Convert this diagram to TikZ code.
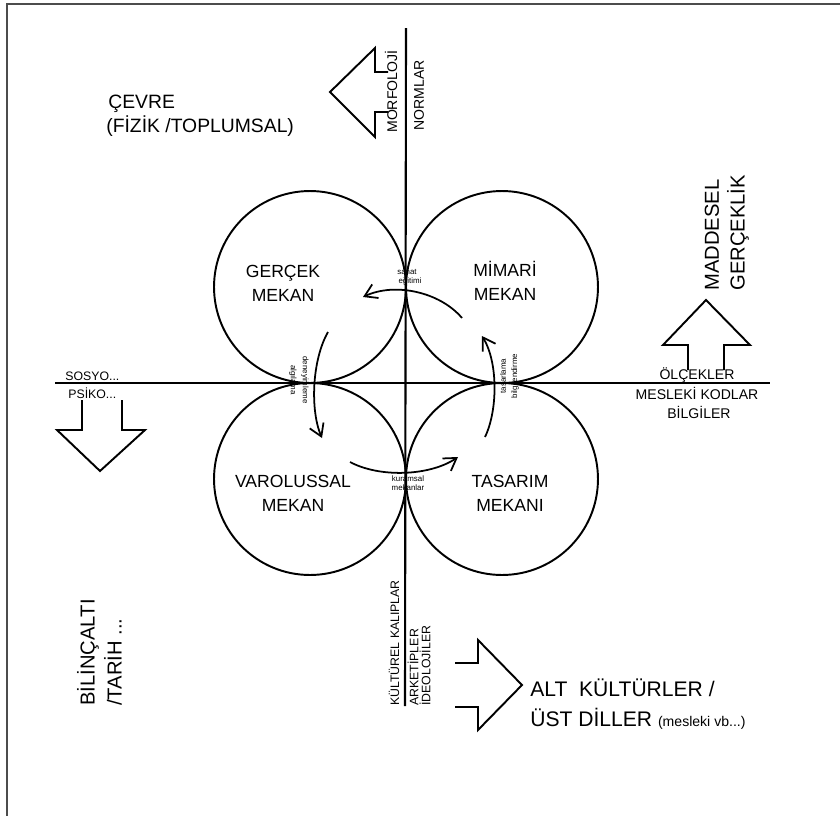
\documentclass[tikz,border=0pt]{standalone}
\usepackage{fontspec}
\setmainfont{Liberation Sans}
\usetikzlibrary{arrows.meta,positioning}
\tikzset{
  mekan/.style={circle,draw,line width=1.1pt,minimum size=3.84cm,inner sep=0pt},
  ad/.style={font=\fontsize{10}{13.6}\selectfont,align=center,inner sep=0pt},
  eksen/.style={line width=1.2pt},
  dongu/.style={line width=1pt,-{Straight Barb[length=2.4mm,width=3mm,line width=1pt]}},
  blok/.style={line width=1.1pt,line join=miter},
  dik/.style={rotate=90,anchor=west,inner sep=0pt,align=left},
  kucuk/.style={font=\fontsize{4.5}{5}\selectfont,inner sep=0pt},
  buyuk/.style={font=\fontsize{11}{14}\selectfont,inner sep=0pt},
  etiket/.style={font=\fontsize{7}{8}\selectfont,inner sep=0pt}}
\begin{document}
\begin{tikzpicture}[x=0.02cm,y=-0.02cm]
\useasboundingbox (0,0) rectangle (840,816);
\draw[black!70,line width=0.8pt] (7,816) -- (7,4) -- (840,4);
% eksenler
\coordinate (ust) at (406,28); \coordinate (alt) at (405,706);
\coordinate (sol) at (55,383); \coordinate (sag) at (770,383);
\draw[eksen] (ust) -- (alt);
\draw[eksen] (sol) -- (sag);
% mekanlar
\node[mekan] (gercek) at (310,287) {};
\node[mekan] (mimari) at (502,287) {};
\node[mekan] (varolus) at (310,479) {};
\node[mekan] (tasarim) at (502,479) {};
\node[ad] (gercekad) at (283,283) {GERÇEK\\MEKAN};
\node[ad] (mimariad) at (505,281) {MİMARİ\\MEKAN};
\node[ad] (varolusad) at (293,493) {VAROLUSSAL\\MEKAN};
\node[ad] (tasarimad) at (510,493) {TASARIM\\MEKANI};
% dongu oklari
\coordinate (t1) at (462,318); \coordinate (t2) at (363,297);
\coordinate (l1) at (328,332); \coordinate (l2) at (322,438);
\coordinate (b1) at (350,462); \coordinate (b2) at (458,457);
\coordinate (r1) at (485,437); \coordinate (r2) at (482,336);
\draw[dongu] (t1) .. controls (440,292) and (395,282) .. (t2);
\draw[dongu] (l1) .. controls (312,360) and (310,410) .. (l2);
\draw[dongu] (b1) .. controls (380,478) and (430,476) .. (b2);
\draw[dongu] (r1) .. controls (498,410) and (498,362) .. (r2);
\node[kucuk] (sanat) at (407,272) {sanat};
\node[kucuk] (egitim) at (410,281) {eğitimi};
\node[kucuk,rotate=-90] (algi) at (293,380) {algılama};
\node[kucuk,rotate=-90] (deneyim) at (305,380) {deneyimleme};
\node[kucuk,rotate=90] (tasarla) at (503,376) {tasarlama};
\node[kucuk,rotate=90] (bilgi) at (515,376) {bilgilendirme};
\node[kucuk] (kuram) at (408,479) {kuramsal};
\node[kucuk] (mekanlar) at (408,488) {mekanlar};
% blok oklar
\draw[blok] (388,72) -- (375,72) -- (375,48) -- (330,92) -- (375,137) -- (375,112) -- (388,112);
\draw[blok] (688,370) -- (688,345) -- (663,345) -- (706,300) -- (750,345) -- (724,345) -- (724,370);
\draw[blok] (82,400) -- (82,430) -- (57,430) -- (100,471) -- (145,430) -- (122,430) -- (122,400);
\draw[blok] (455,663) -- (478,663) -- (478,640) -- (522,685) -- (478,730) -- (478,707) -- (455,707);
% yazilar
\node[buyuk,anchor=base west] (cevre) at (108,108) {ÇEVRE};
\node[buyuk,anchor=base west] (fizik) at (106,132) {(FİZİK /TOPLUMSAL)};
\node[dik,font=\fontsize{8}{9}\selectfont] (morf) at (391,133) {MORFOLOJİ};
\node[dik,font=\fontsize{8}{9}\selectfont] (norm) at (419,131) {NORMLAR};
\node[dik,font=\fontsize{11.5}{14}\selectfont] (madde) at (712,291) {MADDESEL};
\node[dik,font=\fontsize{11.5}{14}\selectfont] (gercekl) at (738,291) {GERÇEKLİK};
\node[etiket,anchor=base west] (sosyo) at (65,380) {SOSYO...};
\node[etiket,anchor=base west] (psiko) at (68,398) {PSİKO...};
\node[font=\fontsize{8}{9}\selectfont,inner sep=0pt,anchor=base] (olcek) at (697,379) {ÖLÇEKLER};
\node[font=\fontsize{8}{9}\selectfont,inner sep=0pt,anchor=base] (meslek) at (697,399) {MESLEKİ KODLAR};
\node[font=\fontsize{8}{9}\selectfont,inner sep=0pt,anchor=base] (bilgiler) at (699,418) {BİLGİLER};
\node[dik,font=\fontsize{11.5}{14}\selectfont] (bilinc) at (88,706) {BİLİNÇALTI};
\node[dik,font=\fontsize{11.5}{14}\selectfont] (tarih) at (113,706) {/TARİH ...};
\node[dik,etiket] (kultur) at (394,706) {KÜLTÜREL KALIPLAR};
\node[dik,etiket] (arke) at (413,706) {ARKETİPLER};
\node[dik,etiket] (ideo) at (425,706) {İDEOLOJİLER};
\node[font=\fontsize{12}{14}\selectfont,inner sep=0pt,anchor=base west] (altk) at (530,696) {ALT\ \ KÜLTÜRLER /};
\node[font=\fontsize{12}{14}\selectfont,inner sep=0pt,anchor=base west] (ustd) at (530,726) {ÜST DİLLER {\fontsize{8}{9}\selectfont(mesleki vb...)}};
\end{tikzpicture}
\end{document}
